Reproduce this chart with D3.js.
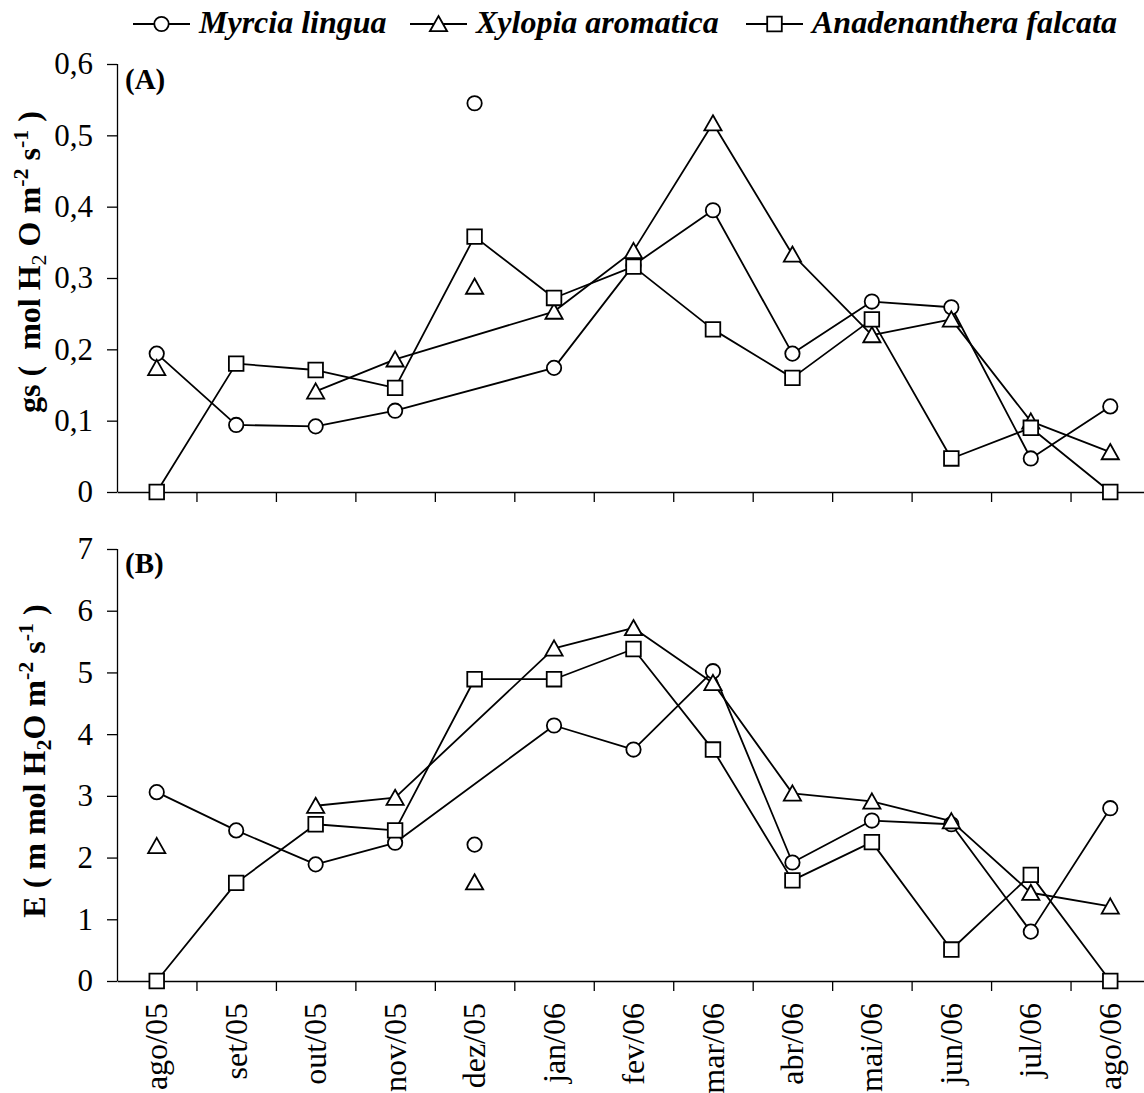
<!DOCTYPE html>
<html>
<head>
<meta charset="utf-8">
<script src="https://cdn.jsdelivr.net/npm/d3@7"></script>
<style>
  html, body { margin: 0; padding: 0; background: #fff; }
  svg { display: block; }
  text { font-family: "Liberation Serif", "Times New Roman", serif; fill: #000; }
</style>
</head>
<body>
<svg id="chart" width="1144" height="1093"></svg>
<script>
// ---------- DATA ----------
const months = ["ago/05","set/05","out/05","nov/05","dez/05","jan/06","fev/06","mar/06","abr/06","mai/06","jun/06","jul/06","ago/06"];
const seriesNames = ["Myrcia lingua", "Xylopia aromatica", "Anadenanthera falcata"];
const seriesSymbols = ["circle", "triangle", "square"];

// Panel A: gs (mol H2O m-2 s-1)
const gsMyrcia        = [0.194, 0.094, 0.092, 0.114, 0.545, 0.174, 0.318, 0.395, 0.194, 0.267, 0.259, 0.047, 0.120];
const gsXylopia       = [0.174, null,  0.141, 0.186, 0.288, 0.253, 0.338, 0.517, 0.333, 0.220, 0.242, 0.099, 0.056];
const gsAnadenanthera = [0.000, 0.180, 0.171, 0.146, 0.358, 0.272, 0.316, 0.228, 0.160, 0.242, 0.047, 0.090, 0.000];

// Panel B: E (m mol H2O m-2 s-1)
const eMyrcia        = [3.06, 2.44, 1.89, 2.24, 2.21, 4.14, 3.75, 5.02, 1.92, 2.60, 2.54, 0.80, 2.80];
const eXylopia       = [2.19, null, 2.84, 2.97, 1.60, 5.39, 5.72, 4.83, 3.04, 2.91, 2.59, 1.43, 1.21];
const eAnadenanthera = [0.00, 1.59, 2.54, 2.44, 4.89, 4.89, 5.38, 3.75, 1.63, 2.25, 0.51, 1.72, 0.00];

// points drawn but not joined by the series line
const unlinkedMonths = [["dez/05"], ["dez/05"], []];

const gsTicks = [0, 0.1, 0.2, 0.3, 0.4, 0.5, 0.6];
const eTicks = [0, 1, 2, 3, 4, 5, 6, 7];

// ---------- LAYOUT ----------
const svg = d3.select("#chart");
const X0 = 117, X1 = 1150;
const x = d3.scaleBand().domain(months).range([X0, X1]);
const xb = d3.scaleLinear().domain([0, months.length]).range([X0, X1]);

const panels = [
  { data: [gsMyrcia, gsXylopia, gsAnadenanthera], ticks: gsTicks, range: [492, 64],
    fmt: d => d === 0 ? "0" : d.toFixed(1).replace(".", ","), label: "(A)", labelY: 89, showX: false,
    title: [["gs (  ", "b"], ["mol H", "b"], ["2", "sub"], [" O m", "b"], ["-2", "sup"], [" s", "b"], ["-1", "sup"], [" )", "b"]],
    titleY: 262, titleX: 40 },
  { data: [eMyrcia, eXylopia, eAnadenanthera], ticks: eTicks, range: [981, 549],
    fmt: d => String(d), label: "(B)", labelY: 573, showX: true,
    title: [["E ( m mol H", "b"], ["2", "subb"], ["O m", "b"], ["-2", "sup"], [" s", "b"], ["-1", "sup"], [" )", "b"]],
    titleY: 761, titleX: 45 }
];

function symbolPath(sym) {
  if (sym === "circle") return d3.symbol().type(d3.symbolCircle).size(Math.PI * 7.2 * 7.2)();
  if (sym === "square") return "M-7.3,-7.3H7.3V7.3H-7.3Z";
  return "M0,-8L8.6,7.2H-8.6Z";
}

panels.forEach(p => {
  const y = d3.scaleLinear().domain([p.ticks[0], p.ticks[p.ticks.length - 1]]).range(p.range);
  const g = svg.append("g");

  // y axis
  const ya = g.append("g").attr("transform", `translate(${X0},0)`)
    .call(d3.axisLeft(y).tickValues(p.ticks).tickFormat(p.fmt).tickSize(10).tickPadding(14));
  ya.select(".domain").attr("stroke", "#000").attr("stroke-width", 1.3).attr("d", `M0.5,${p.range[1]}V${p.range[0]}`);
  ya.selectAll(".tick line").attr("stroke", "#000").attr("stroke-width", 1.3);
  ya.selectAll(".tick text").attr("font-size", 31).attr("font-family", "Liberation Serif");

  // x axis (ticks at category boundaries)
  const xa = g.append("g").attr("transform", `translate(0,${y(0)})`)
    .call(d3.axisBottom(xb).tickValues(d3.range(1, months.length + 1)).tickFormat("").tickSize(10).tickSizeOuter(0));
  xa.select(".domain").attr("stroke", "#000").attr("stroke-width", 1.3);
  xa.selectAll(".tick line").attr("stroke", "#000").attr("stroke-width", 1.3);

  if (p.showX) {
    const xl = g.append("g").attr("transform", `translate(0,${y(0)})`)
      .call(d3.axisBottom(x).tickSize(0).tickPadding(0));
    xl.select(".domain").remove();
    xl.selectAll(".tick text")
      .attr("font-size", 32).attr("font-family", "Liberation Serif")
      .attr("text-anchor", "end")
      .attr("transform", "translate(0,22) rotate(-90)")
      .attr("x", 0).attr("y", 0).attr("dy", "0.33em");
  }

  // panel label
  g.append("text").attr("x", 125).attr("y", p.labelY).attr("font-size", 29)
    .attr("font-weight", "bold").text(p.label);

  // y title
  const t = g.append("text").attr("transform", `translate(${p.titleX},${p.titleY}) rotate(-90)`)
    .attr("text-anchor", "middle").attr("font-size", 32).attr("font-weight", "bold")
    .attr("xml:space", "preserve").style("white-space", "pre");
  p.title.forEach(([s, kind], i) => {
    const ts = t.append("tspan").text(s);
    if (kind === "sub" || kind === "subb") {
      ts.attr("font-size", 22).attr("dy", 6).attr("font-weight", kind === "sub" ? "normal" : "bold");
    } else if (kind === "sup") {
      ts.attr("font-size", 22).attr("dy", -12);
    } else {
      const prev = p.title[i - 1];
      if (prev && (prev[1] === "sub" || prev[1] === "subb")) ts.attr("dy", -6);
      if (prev && prev[1] === "sup") ts.attr("dy", 12);
    }
  });

  // series
  p.data.forEach((vals, si) => {
    const pts = months.map((m, i) => ({ m, v: vals[i] }));
    const linkPts = pts.filter(d => !unlinkedMonths[si].includes(d.m));
    const line = d3.line()
      .defined(d => d.v !== null)
      .x(d => x(d.m) + x.bandwidth() / 2)
      .y(d => y(d.v));
    g.append("path").datum(linkPts).attr("d", line)
      .attr("fill", "none").attr("stroke", "#000").attr("stroke-width", 1.8).attr("stroke-linejoin", "round");
    g.selectAll(null).data(pts.filter(d => d.v !== null)).enter().append("path")
      .attr("d", symbolPath(seriesSymbols[si]))
      .attr("transform", d => `translate(${x(d.m) + x.bandwidth() / 2},${y(d.v)})`)
      .attr("fill", "#fff").attr("stroke", "#000").attr("stroke-width", 1.8);
  });
});

// ---------- LEGEND ----------
const legendX = [133, 410, 746];
const leg = svg.append("g");
seriesNames.forEach((name, i) => {
  const lx = legendX[i];
  leg.append("line").attr("x1", lx).attr("x2", lx + 57).attr("y1", 24).attr("y2", 24)
    .attr("stroke", "#000").attr("stroke-width", 1.8);
  leg.append("path").attr("d", symbolPath(seriesSymbols[i]))
    .attr("transform", `translate(${lx + 28.5},24)`)
    .attr("fill", "#fff").attr("stroke", "#000").attr("stroke-width", 1.8);
  leg.append("text").attr("x", lx + 66).attr("y", 33).attr("font-size", 32)
    .attr("font-weight", "bold").attr("font-style", "italic").text(name);
});
</script>
</body>
</html>
